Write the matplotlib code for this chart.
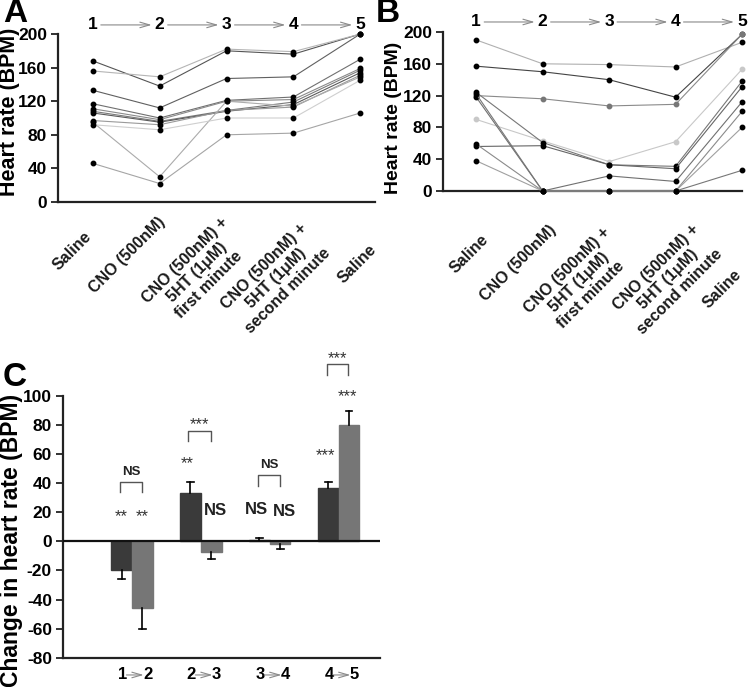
import matplotlib
matplotlib.use('Agg')
import matplotlib.pyplot as plt
from matplotlib.transforms import blended_transform_factory

plt.rcParams['font.family'] = ['Liberation Sans', 'DejaVu Sans']
plt.rcParams['axes.unicode_minus'] = False

# ---------------- data ----------------
categories = ['Saline', 'CNO (500nM)',
              'CNO (500nM) +\n5HT (1μM)\nfirst minute',
              'CNO (500nM) +\n5HT (1μM)\nsecond minute',
              'Saline']
steps = ['1', '2', '3', '4', '5']

# Panel A: heart rate (BPM) of individual preparations
a1 = [168, 138, 180, 176, 200]
a2 = [156, 149, 182, 179, 200]
a3 = [133, 112, 147, 149, 200]
a4 = [117, 100, 121, 125, 170]
a5 = [111, 98, 120, 122, 159]
a6 = [108, 96, 109, 119, 157]
a7 = [106, 95, 108, 116, 154]
a8 = [97, 92, 109, 113, 151]
a9 = [95, 30, 120, 114, 149]
a10 = [92, 86, 100, 100, 145]
a11 = [46, 22, 80, 82, 106]

# Panel B: heart rate (BPM) of individual preparations
b1 = [190, 160, 159, 156, 187]
b2 = [157, 150, 140, 118, 197]
b3 = [120, 116, 107, 109, 197]
b4 = [90, 63, 37, 62, 153]
b5 = [124, 61, 33, 31, 138]
b6 = [56, 57, 33, 28, 131]
b7 = [118, 0, 19, 12, 112]
b8 = [59, 0, 0, 0, 100]
b9 = [38, 0, 0, 0, 80]
b10 = [122, 0, 0, 0, 26]

# Panel C: change in heart rate
c_labels = [('1', '2'), ('2', '3'), ('3', '4'), ('4', '5')]
c_dark = [-20, 33, 1, 37]
c_dark_err = [6, 8, 1.5, 4]
c_gray = [-46, -7, -1.5, 80]
c_gray_err = [14, 5, 3.5, 10]
sig_dark = ['**', '**', 'NS', '***']
sig_gray = ['**', 'NS', 'NS', '***']
sig_pair = ['NS', '***', 'NS', '***']

# ---------------- figure ----------------
W, H = 748, 687
fig = plt.figure(figsize=(W / 100, H / 100), dpi=100)


def px_axes(l, t, r, b):
    return fig.add_axes([l / W, 1 - b / H, (r - l) / W, (b - t) / H])


axA = px_axes(58, 34, 375, 202)
axB = px_axes(443, 32, 742, 191)
axC = px_axes(63, 396, 380, 657.7)

PT = 0.72  # points per pixel at 100 dpi


def style_line_axes(ax, xlim, lab_size):
    ax.set_xlim(*xlim)
    ax.set_ylim(0, 200)
    ax.set_yticks(range(0, 201, 40))
    ax.set_xticks([])
    for s in ['top', 'right']:
        ax.spines[s].set_visible(False)
    for s in ['left', 'bottom']:
        ax.spines[s].set_linewidth(1.6)
        ax.spines[s].set_color('#222222')
    ax.tick_params(axis='y', length=5, width=1.3, labelsize=12.5, pad=3,
                   color='#222222')
    for lab in ax.get_yticklabels():
        lab.set_fontweight('bold')
    ax.set_ylabel('Heart rate (BPM)', fontsize=lab_size, fontweight='bold',
                  va='center')


def header(ax, ypos):
    tr = blended_transform_factory(ax.transData, ax.transAxes)
    xs = range(len(steps))
    for i, s in zip(xs, steps):
        ax.text(i, ypos, s, transform=tr, ha='center', va='center',
                fontsize=12.5, fontweight='bold', clip_on=False)
    for i in range(len(steps) - 1):
        ax.annotate('', xy=(i + 1 - 0.12, ypos), xytext=(i + 0.12, ypos),
                    xycoords=tr, textcoords=tr,
                    arrowprops=dict(arrowstyle='->, head_length=0.7, head_width=0.2',
                                    color='#8a8a8a', lw=0.8,
                                    shrinkA=0, shrinkB=0, mutation_scale=10))


def cat_labels(ax, offsets):
    tr = blended_transform_factory(ax.transData, ax.transAxes)
    for i, (lab, (dx, dy)) in enumerate(zip(categories, offsets)):
        ax.annotate(lab, xy=(i, 0), xycoords=tr,
                    xytext=(dx * PT, dy * PT), textcoords='offset points',
                    rotation=45, ha='right', va='top', rotation_mode='anchor',
                    multialignment='center', linespacing=1.15,
                    fontsize=11.5, fontweight='bold', color='#1a1a1a',
                    annotation_clip=False)


def draw_lines(ax, series, colors, mcolors):
    x = list(range(len(steps)))
    for ys, c, mc in zip(series, colors, mcolors):
        ax.plot(x, ys, '-', color=c, lw=0.8, marker='o', ms=3.2,
                mfc=mc, mec=mc, clip_on=False, zorder=3)


# ---- Panel A ----
style_line_axes(axA, (-0.52, 4.22), 15.5)
draw_lines(axA, [a1, a2, a3, a4, a5, a6, a7, a8, a9, a10, a11],
           ['#555555', '#b5b5b5', '#606060', '#707070', '#8a8a8a', '#7a7a7a',
            '#5a5a5a', '#9a9a9a', '#ababab', '#cfcfcf', '#a5a5a5'],
           ['black'] * 11)
header(axA, 1.054)
cat_labels(axA, [(-9, -27), (-2, -12), (-6, -13), (6, -19), (8, -40)])
axA.yaxis.set_label_coords((10 - 58) / 317, (202 - 112) / 168)

# ---- Panel B ----
style_line_axes(axB, (-0.5, 4.0), 14)
draw_lines(axB, [b1, b2, b3, b4, b5, b6, b7, b8, b9, b10],
           ['#b0b0b0', '#444444', '#8a8a8a', '#c8c8c8', '#777777', '#666666',
            '#707070', '#8a8a8a', '#a0a0a0', '#777777'],
           ['black', 'black', '#777777', '#c8c8c8', 'black', 'black',
            'black', 'black', 'black', 'black'])
header(axB, 1.063)
cat_labels(axB, [(4, -41), (6, -31), (-7, -34), (16, -31), (-8, -76)])
axB.yaxis.set_label_coords((393 - 443) / 299, (191 - 118) / 159.3)

# ---- Panel C ----
axC.set_xlim(0, 4.6)
axC.set_ylim(-80, 100)
axC.set_yticks(range(-80, 101, 20))
axC.set_xticks([])
for s in ['top', 'right']:
    axC.spines[s].set_visible(False)
for s in ['left', 'bottom']:
    axC.spines[s].set_linewidth(1.6)
    axC.spines[s].set_color('#222222')
axC.tick_params(axis='y', length=5, width=1.3, labelsize=12.5, pad=3,
                color='#222222')
for lab in axC.get_yticklabels():
    lab.set_fontweight('bold')
axC.set_ylabel('Change in heart rate (BPM)', fontsize=16.5, fontweight='bold',
               va='center')
axC.yaxis.set_label_coords((12 - 63) / 317, (657.7 - 540) / 261.7)

gx = [1, 2, 3, 4]
bw = 0.3
xd = [g - bw / 2 for g in gx]
xg = [g + bw / 2 for g in gx]
axC.bar(xd, c_dark, width=bw, color='#3a3a3a', edgecolor='#3a3a3a', zorder=2)
axC.bar(xg, c_gray, width=bw, color='#767676', edgecolor='#767676', zorder=2)
axC.axhline(0, color='#111111', lw=1.6, zorder=3)


def err(ax, xs, vals, errs):
    for x, v, e in zip(xs, vals, errs):
        end = v + (e if v >= 0 else -e)
        ax.plot([x, x], [v, end], color='black', lw=1.2, zorder=4)
        ax.plot([x - 0.05, x + 0.05], [end, end], color='black', lw=1.2,
                zorder=4)


err(axC, xd, c_dark, c_dark_err)
err(axC, xg, c_gray, c_gray_err)

# significance marks
dark_pos = [(0.84, 20.6), (1.80, 57), (2.80, 22), (3.81, 62.5)]
gray_pos = [(1.15, 20.6), (2.21, 21), (3.21, 20.6), (4.13, 103)]
pair_br = [(0.82, 1.15, 41, 34), (1.81, 2.15, 76, 69),
           (2.83, 3.15, 46, 38), (3.83, 4.14, 122, 114.5)]


def sig_text(x, y, s):
    if s == 'NS':
        axC.text(x, y, s, ha='center', va='center', fontsize=12,
                 fontweight='bold', color='#222222', clip_on=False)
    else:
        axC.text(x, y - 3.5, s, ha='center', va='center', fontsize=12,
                 color='#333333', clip_on=False)


for s, (x, y) in zip(sig_dark, dark_pos):
    sig_text(x, y, s)
for s, (x, y) in zip(sig_gray, gray_pos):
    sig_text(x, y, s)
for s, (x0, x1, top, leg) in zip(sig_pair, pair_br):
    axC.plot([x0, x0, x1, x1], [leg, top, top, leg], color='#555555',
             lw=1.0, clip_on=False)
    if s == 'NS':
        axC.text((x0 + x1) / 2, top + 6.5, s, ha='center', va='center',
                 fontsize=9.5, fontweight='bold', color='#222222',
                 clip_on=False)
    else:
        axC.text((x0 + x1) / 2, top + 4, s, ha='center', va='center',
                 fontsize=12, color='#333333', clip_on=False)

# x labels of panel C: "1 -> 2"
trC = blended_transform_factory(axC.transData, axC.transAxes)
for g, (a, b) in zip(gx, c_labels):
    axC.text(g - 0.14, -0.066, a, transform=trC, ha='center', va='center',
             fontsize=12, fontweight='bold', clip_on=False)
    axC.text(g + 0.23, -0.066, b, transform=trC, ha='center', va='center',
             fontsize=12, fontweight='bold', clip_on=False)
    axC.annotate('', xy=(g + 0.17, -0.066), xytext=(g - 0.08, -0.066),
                 xycoords=trC, textcoords=trC, annotation_clip=False,
                 arrowprops=dict(arrowstyle='->, head_length=0.7, head_width=0.2',
                                 color='#8a8a8a', lw=0.8,
                                 shrinkA=0, shrinkB=0, mutation_scale=10))

# panel letters
for letter, (x, y) in zip(['A', 'B', 'C'], [(15, 14), (388, 14), (15, 378)]):
    fig.text(x / W, 1 - y / H, letter, ha='center', va='center',
             fontsize=24, fontweight='bold')

fig.savefig('out.png', dpi=100)
